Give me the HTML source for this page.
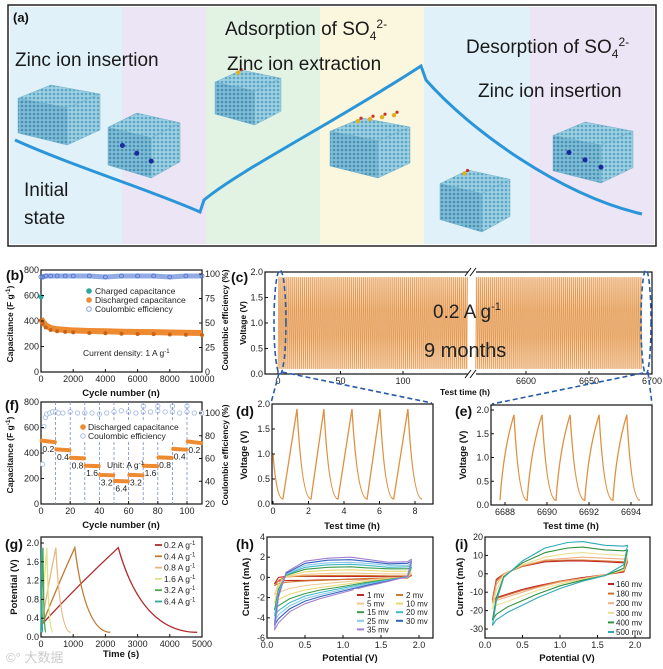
<!DOCTYPE html>
<html><head><meta charset="utf-8"><style>
html,body{margin:0;padding:0;background:#fff;}
svg{display:block;font-family:"Liberation Sans","Noto Sans CJK SC",sans-serif;}
.t{font-size:9px;fill:#222;}
.b{font-size:9.5px;font-weight:bold;fill:#111;}
.by{font-size:8.5px;font-weight:bold;fill:#111;}
.p{font-size:14px;font-weight:bold;fill:#111;}
.big{font-size:19px;fill:#1a1a1a;}
.lg{font-size:8.5px;fill:#222;}
.lgs{font-size:8px;fill:#222;}
</style></head><body>
<svg id="fig" width="663" height="669" viewBox="0 0 663 669">
<defs>
<pattern id="dots" width="4" height="4" patternUnits="userSpaceOnUse"><rect width="4" height="4" fill="#9fd0e2"/><circle cx="2" cy="2" r="1.3" fill="#5aa6c6"/></pattern>
<pattern id="dots2" width="4" height="4" patternUnits="userSpaceOnUse"><rect width="4" height="4" fill="#7fbcd6"/><circle cx="2" cy="2" r="1.3" fill="#4a90b4"/></pattern>
</defs>
<g>
<rect x="8" y="5" width="648" height="241" fill="#fff" stroke="#222" stroke-width="1.5"/>
<rect x="10" y="7" width="112" height="237" fill="#e0f1f9"/>
<rect x="122" y="7" width="84" height="237" fill="#ece5f5"/>
<rect x="206" y="7" width="114" height="237" fill="#e3f3e3"/>
<rect x="320" y="7" width="104" height="237" fill="#fbf6de"/>
<rect x="424" y="7" width="106" height="237" fill="#e0f1f9"/>
<rect x="530" y="7" width="124" height="237" fill="#ece5f5"/>
<g id="cubes"></g>
<path d="M15,140 C70,165 150,190 200,212 L204,200 C240,170 330,125 421,66 L426,80 C470,130 560,195 642,214" fill="none" stroke="#2a95d8" stroke-width="3"/>
<text x="13" y="22" class="p" style="font-size:13px">(a)</text>
<text x="15" y="66" class="big">Zinc ion insertion</text>
<text x="24" y="196" class="big">Initial</text>
<text x="24" y="224" class="big">state</text>
<text x="225" y="35" class="big">Adsorption of SO<tspan font-size="12" dy="5">4</tspan><tspan font-size="12" dy="-12">2-</tspan></text>
<text x="227" y="70" class="big">Zinc ion extraction</text>
<text x="466" y="53" class="big">Desorption of SO<tspan font-size="12" dy="5">4</tspan><tspan font-size="12" dy="-12">2-</tspan></text>
<text x="478" y="97" class="big">Zinc ion insertion</text>
</g>

<g fill="none" stroke="#111" stroke-width="1.2">
<rect x="41" y="270" width="161" height="102"/>
<rect x="265" y="272" width="387" height="102"/>
<rect x="41" y="402" width="161" height="102"/>
<rect x="272" y="404" width="161" height="100"/>
<rect x="491" y="405" width="161" height="100"/>
<rect x="41" y="537" width="161" height="100"/>
<rect x="267" y="537" width="166" height="101"/>
<rect x="485" y="537" width="165" height="101"/>
</g>
<rect x="468" y="270" width="8" height="110" fill="#fff"/>
<g stroke="#111" stroke-width="1">
<line x1="465" y1="276" x2="471" y2="268"/><line x1="470" y1="276" x2="476" y2="268"/>
<line x1="465" y1="378" x2="471" y2="370"/><line x1="470" y1="378" x2="476" y2="370"/>
</g>
<g id="marks"></g>
<g id="ticks"></g>

<text x="6" y="280" class="p">(b)</text>
<text x="231" y="282" class="p">(c)</text>
<text x="5" y="410" class="p">(f)</text>
<text x="236" y="416" class="p">(d)</text>
<text x="455" y="416" class="p">(e)</text>
<text x="5" y="549" class="p">(g)</text>
<text x="236" y="549" class="p">(h)</text>
<text x="455" y="549" class="p">(i)</text>

<text x="121" y="396" class="b" text-anchor="middle">Cycle number (n)</text>
<text transform="translate(13,324) rotate(-90)" class="by" text-anchor="middle">Capacitance (F g<tspan dy="-3" font-size="6.5">-1</tspan><tspan dy="3">)</tspan></text>
<text transform="translate(228,320) rotate(-90)" class="by" text-anchor="middle">Coulombic efficiency (%)</text>
<text x="465" y="395" class="b" text-anchor="middle" style="font-size:8.5px">Test time (h)</text>
<text transform="translate(246,323) rotate(-90)" class="b" text-anchor="middle" style="font-size:8.5px">Voltage (V)</text>
<text x="433" y="318" style="font-size:19px;fill:#222">0.2 A g<tspan dy="-8" font-size="11">-1</tspan></text>
<text x="424" y="357" style="font-size:20px;fill:#222">9 months</text>
<text x="121" y="528" class="b" text-anchor="middle">Cycle number (n)</text>
<text transform="translate(13,455) rotate(-90)" class="by" text-anchor="middle">Capacitance (F g<tspan dy="-3" font-size="6.5">-1</tspan><tspan dy="3">)</tspan></text>
<text transform="translate(228,455) rotate(-90)" class="by" text-anchor="middle">Coulombic efficiency (%)</text>
<text x="352" y="529" class="b" text-anchor="middle">Test time (h)</text>
<text transform="translate(247,455) rotate(-90)" class="b" text-anchor="middle">Voltage (V)</text>
<text x="571" y="529" class="b" text-anchor="middle">Test time (h)</text>
<text transform="translate(466,455) rotate(-90)" class="b" text-anchor="middle">Voltage (V)</text>
<text x="121" y="657" class="b" text-anchor="middle">Time (s)</text>
<text transform="translate(17,587) rotate(-90)" class="b" text-anchor="middle">Potential (V)</text>
<text x="350" y="661" class="b" text-anchor="middle">Potential (V)</text>
<text transform="translate(249,587) rotate(-90)" class="b" text-anchor="middle">Current (mA)</text>
<text x="567" y="661" class="b" text-anchor="middle">Potential (V)</text>
<text transform="translate(463,587) rotate(-90)" class="b" text-anchor="middle">Current (mA)</text>
<text x="83" y="356" class="lg">Current density: 1 A g<tspan dy="-3" font-size="6">-1</tspan></text>
<text x="107" y="468" class="lg">Unit: A g<tspan dy="-3" font-size="6">-1</tspan></text>
<text x="6" y="662" style="font-size:13px;fill:#ccc">©° 大数据</text>

<g fill="none" stroke="#2a5ca8" stroke-width="1.6" stroke-dasharray="5,3">
<ellipse cx="280" cy="322" rx="6" ry="52"/>
<ellipse cx="646" cy="322" rx="5" ry="52"/>
<line x1="279" y1="373" x2="271" y2="403"/>
<line x1="282" y1="372" x2="432" y2="403"/>
<line x1="643" y1="373" x2="492" y2="404"/>
<line x1="648" y1="372" x2="652" y2="404"/>
</g>
</svg>
<script>
const NS='http://www.w3.org/2000/svg';
const bCycles=[0,100,300,600,1000,1500,2000,3000,4000,5000,6000,7000,8000,9000,10000];
const bDischarge=[420,395,365,345,335,330,326,322,320,316,314,313,310,308,306];
const bCE=[97,97,98,98,98,98,98,98,97,98,98,98,97,98,98];
const bChargedFirst=[590];
const cLeftRange=[0,152];
const cRightRange=[6560,6692];
const cCycleHours=[1.57];
const cVoltRange=[0.1,1.9];
const fStepStart=[0,10,20,30,40,50,60,70,80,90,100];
const fRates=['0.2','0.4','0.8','1.6','3.2','6.4','3.2','1.6','0.8','0.4','0.2'];
const fCapStart=[497,428,363,300,228,180,228,300,366,432,490];
const fCapEnd=[485,422,358,297,225,177,225,297,362,426,478];
const fCECycles=[1,2,3,4,6,8,10,12,15,20,25,30,35,40,45,50,55,60,65,70,75,80,85,90,95,100,105,110];
const fCE=[55,88,96,99,100,101,101,100,100,101,100,100,100,99,100,101,102,101,100,101,101,102,101,101,100,101,100,100];
const fCESpikeCycles=[70,80,90,100];
const fCESpikes=[106,106,106,106];
const dTimes=[0,0.56,1.35,2.14,2.87,3.66,4.45,5.3,6.03,6.8,7.6,8.4];
const dVolts=[1.0,0.1,1.9,0.1,1.9,0.1,1.9,0.1,1.9,0.1,1.9,0.1];
const eTimes=[6687.76,6688.43,6689.05,6689.76,6690.43,6691.1,6691.8,6692.48,6693.14,6693.8,6694.43];
const eVolts=[0.1,1.9,0.1,1.9,0.1,1.9,0.1,1.9,0.1,1.9,0.1];
const gRates=['0.2','0.4','0.8','1.6','3.2','6.4'];
const gStartV=[0.25,0.2,0.2,0.2,0.15,0.1];
const gChargeEnd=[2400,1050,460,180,60,20];
const gDischargeEnd=[4850,2150,920,370,150,50];
const gColors=['#b0282a','#c07a30','#e8b880','#e2e088','#4aa848','#30a898'];
const cvPotUp=[0.1,0.15,0.25,0.5,0.8,1.1,1.3,1.6,1.85,1.9];
const cvPotDown=[1.9,1.85,1.6,1.3,1.0,0.7,0.5,0.3,0.15,0.1];
const hRates=['1 mv','2 mv','5 mv','10 mv','15 mv','20 mv','25 mv','30 mv','35 mv'];
const hColors=['#c0282a','#d07a30','#f0c890','#e8d870','#3a9a48','#40b8c8','#88c8e8','#3060c0','#a080d0'];
const hUp=[
[-0.6,0,0.1,0.1,0.1,0.1,0.1,0.1,0.1,0.2],
[-0.8,-0.3,0.05,0.15,0.2,0.2,0.2,0.15,0.15,0.25],
[-1.7,-0.6,0.05,0.3,0.4,0.45,0.4,0.35,0.35,0.45],
[-2.5,-0.9,0.1,0.55,0.7,0.75,0.7,0.6,0.6,0.75],
[-3.2,-1.2,0.2,0.8,1.0,1.05,0.95,0.85,0.85,1.0],
[-3.8,-1.4,0.25,1.0,1.25,1.3,1.2,1.0,1.05,1.2],
[-4.3,-1.6,0.3,1.2,1.45,1.5,1.4,1.2,1.2,1.4],
[-4.7,-1.8,0.4,1.4,1.7,1.75,1.6,1.35,1.4,1.6],
[-5.2,-2.0,0.5,1.6,1.9,2.0,1.8,1.5,1.55,1.8]];
const hDown=[
[0.2,-0.05,-0.1,-0.15,-0.2,-0.25,-0.3,-0.3,-0.35,-0.6],
[0.25,0,-0.05,-0.1,-0.2,-0.3,-0.35,-0.45,-0.6,-0.8],
[0.45,0,-0.1,-0.25,-0.45,-0.65,-0.8,-1.1,-1.5,-1.7],
[0.75,0.05,-0.15,-0.4,-0.7,-1.0,-1.25,-1.65,-2.2,-2.5],
[1.0,0.05,-0.2,-0.5,-0.9,-1.25,-1.6,-2.1,-2.8,-3.2],
[1.2,0.05,-0.25,-0.6,-1.05,-1.5,-1.85,-2.5,-3.3,-3.8],
[1.4,0.1,-0.3,-0.7,-1.2,-1.7,-2.1,-2.8,-3.7,-4.3],
[1.6,0.1,-0.35,-0.8,-1.35,-1.9,-2.35,-3.1,-4.1,-4.7],
[1.8,0.1,-0.4,-0.9,-1.5,-2.1,-2.6,-3.4,-4.5,-5.2]];
const iRates=['160 mv','180 mv','200 mv','300 mv','400 mv','500 mv'];
const iColors=['#c02020','#d07030','#f0b080','#e8e090','#309040','#30a8b8'];
const iUp=[
[-14,-3,0,4,6.5,7,7,6.5,6,6.5],
[-15,-4,0,4,7,7.5,7.5,7,6.5,7],
[-16,-6,0,4.5,7.5,8.5,9,8.5,8,8],
[-19,-9,-1,5,9,11,11.5,10.5,10,10.5],
[-25,-13,-1.5,6,11.5,14,14.5,13,12.5,13],
[-28,-15,-2,7,14,17,17.5,15.5,15,15.5]];
const iDown=[
[6.5,1,-0.5,-2,-4,-6.5,-8.5,-11,-13,-14],
[7,1.5,-0.5,-2.5,-4,-7,-9,-11.5,-13.5,-15],
[8,2,-0.5,-2.5,-4.5,-7.5,-10,-12.5,-14.5,-16],
[10.5,2,-0.8,-3,-5.5,-9,-12,-15,-17,-19],
[13,3,-1,-3.5,-6.5,-11,-14.5,-18,-22,-25],
[15.5,5,-1,-4,-8,-13,-17,-21,-25,-28]];
const bXTicks=[0,2000,4000,6000,8000,10000];
const bYTicks=[0,200,400,600,800];
const bY2Ticks=[0,25,50,75,100];
const cYTicks=['0.0','0.5','1.0','1.5','2.0'];
const cXLeftTicks=[0,50,100];
const cXRightTicks=[6600,6650,6700];
const fXTicks=[0,20,40,60,80,100];
const fYTicks=[0,200,400,600,800];
const fY2Ticks=[20,40,60,80,100];
const dXTicks=[0,2,4,6,8];
const eXTicks=[6688,6690,6692,6694];
const vTicks=['0.0','0.5','1.0','1.5','2.0'];
const gXTicks=[0,1000,2000,3000,4000,5000];
const gYTicks=['0.0','0.4','0.8','1.2','1.6','2.0'];
const cvXTicks=['0.0','0.5','1.0','1.5','2.0'];
const hYTicks=[-6,-4,-2,0,2,4];
const iYTicks=[-30,-20,-10,0,10,20];

const bx=v=>41+v/10000*161, by=v=>372-v/800*102, by2=v=>372-v/100*98;
const cxL=t=>278+t*1.25, cxR=t=>526+(t-6600)*1.26, cy=v=>374-v*51;
const fx=c=>41+c*1.46, fy=v=>504-v*102/800, fy2=v=>504-(v-20)*91/80;
const dx=t=>273+t*17.75, dy=v=>504-v*50;
const ex=t=>505+(t-6688)*21, ey=v=>505-v*47.5;
const gx=t=>41+t*161/5000, gy=v=>637-v*47;
const hx=p=>267+p*76, hy=i=>638-(i+6)*10.1;
const ix=p=>485+p*75, iy=i=>629-(i+30)*1.84;

const marks=document.getElementById('marks');
const ticksG=document.getElementById('ticks');
function mk(tag,attrs,parent){const e=document.createElementNS(NS,tag);for(const k in attrs)e.setAttribute(k,attrs[k]);parent.appendChild(e);return e;}
function txt(x,y,s,anchor,parent,cls){const e=mk('text',{x:x,y:y,'text-anchor':anchor,'class':cls||'t'},parent);e.textContent=s;return e;}

function xTicks(vals,scale,yBase,parent,prefix){vals.forEach(v=>{const X=scale(+v);
 const l=mk('line',{x1:X,y1:yBase,x2:X,y2:yBase-3,stroke:'#111','stroke-width':1},parent);
 
 
 const t=txt(X,yBase+10,String(v),'middle',parent);
 
 });}
function yTicks(vals,scale,xBase,side,parent,prefix){vals.forEach(v=>{const Y=scale(+v);
 const d=side==='left'?3:-3;
 const l=mk('line',{x1:xBase,y1:Y,x2:xBase+d,y2:Y,stroke:'#111','stroke-width':1},parent);
 
 
 const t=txt(side==='left'?xBase-2:xBase+3,Y+3,String(v),side==='left'?'end':'start',parent);
 
 });}
xTicks(bXTicks,bx,372,ticksG,'b');yTicks(bYTicks,by,41,'left',ticksG,'b');yTicks(bY2Ticks,by2,202,'right',ticksG,'b');
xTicks(cXLeftTicks,cxL,374,ticksG,'c');xTicks(cXRightTicks,cxR,374,ticksG,'c');yTicks(cYTicks,cy,265,'left',ticksG,'c');
xTicks(fXTicks,fx,504,ticksG,'f');yTicks(fYTicks,fy,41,'left',ticksG,'f');yTicks(fY2Ticks,fy2,202,'right',ticksG,'f');
xTicks(dXTicks,dx,504,ticksG,'d');yTicks(vTicks,dy,272,'left',ticksG,'d');
xTicks(eXTicks,ex,505,ticksG,'e');yTicks(vTicks,ey,491,'left',ticksG,'e');
xTicks(gXTicks,gx,637,ticksG,'g');yTicks(gYTicks,gy,41,'left',ticksG,'g');
xTicks(cvXTicks,hx,638,ticksG,'h');yTicks(hYTicks,hy,267,'left',ticksG,'h');
xTicks(cvXTicks,ix,638,ticksG,'i');yTicks(iYTicks,iy,485,'left',ticksG,'i');

let pts=bCycles.map((c,i)=>bx(c)+','+by2(bCE[i])).join(' ');
let pl=mk('polyline',{points:pts,fill:'none',stroke:'#7f9ce0','stroke-width':5,opacity:0.85},marks);


bCycles.forEach((c,i)=>{const m=mk('circle',{cx:bx(c),cy:by2(bCE[i]),r:2,fill:'none',stroke:'#4a6cc8','stroke-width':0.8},marks);
 
 });
pts=bCycles.map((c,i)=>bx(c)+','+by(bDischarge[i])).join(' ');
pl=mk('polyline',{points:pts,fill:'none',stroke:'#ee8a30','stroke-width':6,'stroke-linejoin':'round'},marks);


bCycles.forEach((c,i)=>{const m=mk('circle',{cx:bx(c),cy:by(bDischarge[i])+2,r:2,fill:'#c86418'},marks);
 
 });
let cm=mk('circle',{cx:bx(0),cy:by(bChargedFirst[0]),r:2.6,fill:'#2aa8a0'},marks);


[['#2aa8a0','Charged capacitance',294,'fill'],['#ee8a30','Discharged capacitance',303,'fill'],['#8aa0d8','Coulombic efficiency',312,'open']].forEach(r=>{
 const c=mk('circle',{cx:89,cy:r[2]-3,r:2.3,fill:r[3]==='fill'?r[0]:'none',stroke:r[0]},marks);
 
 
 const t=txt(95,r[2],r[1],'start',marks,'lg');
 
 });

const cBg1=mk('rect',{x:cxL(cLeftRange[0]),y:cy(cVoltRange[1]),width:cxL(cLeftRange[1])-cxL(cLeftRange[0]),height:cy(cVoltRange[0])-cy(cVoltRange[1]),fill:'#f6dcc0'},marks);


const cBg2=mk('rect',{x:cxR(cRightRange[0]),y:cy(cVoltRange[1]),width:cxR(cRightRange[1])-cxR(cRightRange[0]),height:cy(cVoltRange[0])-cy(cVoltRange[1]),fill:'#f6dcc0'},marks);


function zig(range,scale,name){let d='';let t=range[0];let k=0;
 while(t<=range[1]){const v=k%2===0?cVoltRange[0]:cVoltRange[1];d+=(k===0?'M':'L')+scale(t).toFixed(2)+','+cy(v).toFixed(1);t+=cCycleHours[0]/2;k++;}
 const p=mk('path',{d:d,fill:'none',stroke:'#e49850','stroke-width':0.7},marks);
 
 }
zig(cLeftRange,cxL,'c-voltage-profile-left');zig(cRightRange,cxR,'c-voltage-profile-right');

fCECycles.forEach((c,i)=>{const m=mk('circle',{cx:fx(c),cy:fy2(fCE[i]),r:2.2,fill:'#fff',stroke:'#a8bce4','stroke-width':0.9},marks);
 
 });
fCESpikeCycles.forEach((c,i)=>{const m=mk('circle',{cx:fx(c),cy:fy2(fCESpikes[i]),r:2.2,fill:'#fff',stroke:'#a8bce4','stroke-width':0.9},marks);
 
 });
fStepStart.forEach(c=>{if(c===0)return;const l=mk('line',{x1:fx(c),y1:402,x2:fx(c),y2:504,stroke:'#7a8ad0','stroke-width':0.8,'stroke-dasharray':'3,2'},marks);
 
 });
const fl=mk('rect',{x:74,y:421,width:100,height:21,fill:'#fff'},marks);


fStepStart.forEach((c,i)=>{const s=mk('line',{x1:fx(c+0.5),y1:fy(fCapStart[i]),x2:fx(c+9.5),y2:fy(fCapEnd[i]),stroke:'#ee8a30','stroke-width':4,'stroke-linecap':'round'},marks);
 
 
 const t=txt(fx(c+5),fy(fCapEnd[i])+10,fRates[i],'middle',marks,'lg');
 
 });
[['#ee8a30','Discharged capacitance',430,'fill'],['#a8bce4','Coulombic efficiency',439,'open']].forEach(r=>{
 const c=mk('circle',{cx:83,cy:r[2]-3,r:2.3,fill:r[3]==='fill'?r[0]:'none',stroke:r[0]},marks);
 
 
 const t=txt(88,r[2],r[1],'start',marks,'lg');
 
 });

function gcdPath(times,volts,sx,sy,concaveCharge){let d='M'+sx(times[0])+','+sy(volts[0]);
 for(let i=1;i<times.length;i++){const x0=sx(times[i-1]),y0=sy(volts[i-1]),x1=sx(times[i]),y1=sy(volts[i]);
  let qx,qy;if(volts[i]<volts[i-1]){qx=x0+(x1-x0)*0.35;qy=y1;}else{qx=concaveCharge?x0+(x1-x0)*0.25:(x0+x1)/2;qy=concaveCharge?y0-(y0-y1)*0.6:(y0+y1)/2;}
  d+=' Q'+qx.toFixed(1)+','+qy.toFixed(1)+' '+x1.toFixed(1)+','+y1.toFixed(1);}
 return d;}
let p=mk('path',{d:gcdPath(dTimes,dVolts,dx,dy,false),fill:'none',stroke:'#e09040','stroke-width':1.3},marks);


p=mk('path',{d:gcdPath(eTimes,eVolts,ex,ey,true),fill:'none',stroke:'#e09040','stroke-width':1.3},marks);



gRates.forEach((r,i)=>{const x0=gx(0),y0=gy(gStartV[i]),x1=gx(gChargeEnd[i]),y1=gy(1.9),x2=gx(gDischargeEnd[i]),y2=gy(0.1);
 const d='M'+x0+','+y0+' Q'+((x0+x1)/2)+','+((y0+y1)/2-3)+' '+x1+','+y1+' Q'+(x1+(x2-x1)*0.3)+','+y2+' '+x2+','+y2;
 const c=mk('path',{d:d,fill:'none',stroke:gColors[i],'stroke-width':1.3},marks);
 
 
 const ly=545+i*11.3;
 const l=mk('line',{x1:155,y1:ly,x2:162,y2:ly,stroke:gColors[i],'stroke-width':1.8},marks);
 
 
 const t=mk('text',{x:164,y:ly+3,'class':'lg'},marks);
 t.textContent=r+' A g';
 const s=mk('tspan',{dy:-3,'font-size':6},t);s.textContent='-1';
 
 });

function cv(up,down,sx,sy,color,name){let d='';cvPotUp.forEach((pp,k)=>{d+=(k?'L':'M')+sx(pp).toFixed(1)+','+sy(up[k]).toFixed(1);});
 cvPotDown.forEach((pp,k)=>{d+='L'+sx(pp).toFixed(1)+','+sy(down[k]).toFixed(1);});d+='Z';
 const c=mk('path',{d:d,fill:'none',stroke:color,'stroke-width':1.1,'stroke-linejoin':'round'},marks);
 
 }
hRates.forEach((r,i)=>cv(hUp[i],hDown[i],hx,hy,hColors[i],'h-cv-'+r.replace(' ','')));
iRates.forEach((r,i)=>cv(iUp[i],iDown[i],ix,iy,iColors[i],'i-cv-'+r.replace(' ','')));
const hl=mk('rect',{x:354,y:589,width:78,height:48,fill:'#fff'},marks);


hRates.forEach((r,i)=>{const col=i%2,row=Math.floor(i/2);const lx=col?396:357,ly=595+row*8.6;
 const l=mk('line',{x1:lx,y1:ly,x2:lx+7,y2:ly,stroke:hColors[i],'stroke-width':2},marks);
 
 
 const t=txt(lx+10,ly+3,r,'start',marks,'lgs');
 
 });
const il=mk('rect',{x:606,y:578,width:43,height:59,fill:'#fff'},marks);


iRates.forEach((r,i)=>{const ly=584+i*9.6;
 const l=mk('line',{x1:608,y1:ly,x2:614,y2:ly,stroke:iColors[i],'stroke-width':2},marks);
 
 
 const t=txt(616,ly+3,r,'start',marks,'lgs');
 
 });

const cubesG=document.getElementById('cubes');
const cubeBoxes=[[18,85,82,60,0,0],[108,113,72,65,3,0],[215,70,66,55,0,1],[330,118,80,60,0,4],[440,170,70,62,0,1],[553,122,80,61,3,0]];
cubeBoxes.forEach((c,i)=>{const [x,y,w,h,zn,so]=c;
 const top=[[x+0.4*w,y],[x+w,y+0.15*h],[x+0.6*w,y+0.38*h],[x,y+0.22*h]];
 const left=[[x,y+0.22*h],[x+0.6*w,y+0.38*h],[x+0.6*w,y+h],[x,y+0.8*h]];
 const right=[[x+0.6*w,y+0.38*h],[x+w,y+0.15*h],[x+w,y+0.75*h],[x+0.6*w,y+h]];
 [[top,'url(#dots)'],[left,'url(#dots2)'],[right,'url(#dots)']].forEach(f=>{
  const pg=mk('polygon',{points:f[0].map(q=>q.join(',')).join(' '),fill:f[1],stroke:'#6fb0cc','stroke-width':0.5},cubesG);
  
  });
 for(let k=0;k<zn;k++){const a=mk('circle',{cx:x+0.2*w+k*0.2*w,cy:y+0.5*h+k*0.12*h,r:2.5,fill:'#1a2a9a'},cubesG);
  
  }
 for(let k=0;k<so;k++){const sx0=x+0.35*w+k*0.15*w,sy0=y+0.12*h-k*2;
  const a=mk('circle',{cx:sx0,cy:sy0-4,r:2.2,fill:'#e0b020'},cubesG);
  
  
  const b=mk('circle',{cx:sx0+3,cy:sy0-7,r:1.6,fill:'#d03020'},cubesG);
  
  }
});
</script>
</body></html>
